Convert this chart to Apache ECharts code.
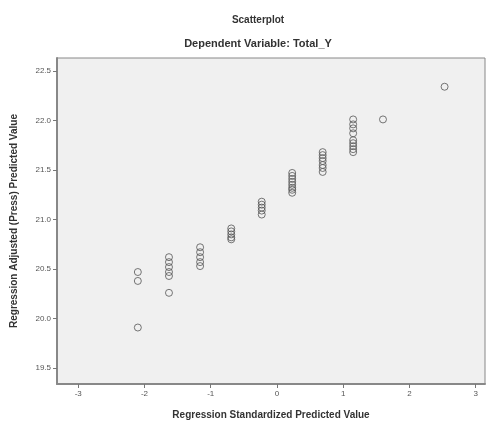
<!DOCTYPE html>
<html>
<head>
<meta charset="utf-8">
<script src="https://cdn.jsdelivr.net/npm/echarts@6/dist/echarts.min.js"></script>
<style>html,body{margin:0;padding:0;background:#fff}#c{width:489px;height:427px}</style>
</head>
<body>
<div id="c"></div>
<script>
var xTicks = [-3, -2, -1, 0, 1, 2, 3];
var yTicks = [19.5, 20.0, 20.5, 21.0, 21.5, 22.0, 22.5];
// standardized predicted value per group
var groupX = [-2.10, -1.63, -1.16, -0.69, -0.23, 0.23, 0.69, 1.15, 1.60, 2.53];
// adjusted (press) predicted values per group
var groupY = [
  [20.47, 20.38, 19.91],
  [20.62, 20.57, 20.52, 20.47, 20.43, 20.26],
  [20.72, 20.67, 20.62, 20.57, 20.53],
  [20.91, 20.88, 20.85, 20.82, 20.80],
  [21.18, 21.15, 21.12, 21.09, 21.05],
  [21.47, 21.44, 21.41, 21.38, 21.35, 21.32, 21.30, 21.27],
  [21.68, 21.65, 21.62, 21.59, 21.55, 21.52, 21.48],
  [22.01, 21.96, 21.92, 21.87, 21.80, 21.77, 21.74, 21.71, 21.68],
  [22.01],
  [22.34]
];
var points = [];
groupX.forEach(function (x, i) { groupY[i].forEach(function (y) { points.push([x, y]); }); });

var chart = echarts.init(document.getElementById('c'));
var font = 'Liberation Sans, Arial, sans-serif';
chart.setOption({
  animation: false,
  title: [
    { text: 'Scatterplot', left: 253, top: 10, textAlign: 'center',
      textStyle: { fontFamily: font, fontSize: 10, fontWeight: 'bold', color: '#333' } },
    { text: 'Dependent Variable: Total_Y', left: 253, top: 33, textAlign: 'center',
      textStyle: { fontFamily: font, fontSize: 11, fontWeight: 'bold', color: '#333' } }
  ],
  grid: { left: 57, top: 58, right: 4, bottom: 43, show: true,
    backgroundColor: '#f0f0f0', borderColor: '#888', borderWidth: 1 },
  xAxis: {
    type: 'value', min: -3.32, max: 3.14,
    name: 'Regression Standardized Predicted Value', nameLocation: 'middle', nameGap: 26,
    nameTextStyle: { fontFamily: font, fontSize: 10, fontWeight: 'bold', color: '#333' },
    axisLine: { show: true, onZero: false, lineStyle: { color: '#888', width: 2 } },
    axisTick: { show: true, length: 4, customValues: xTicks, lineStyle: { color: '#777' } },
    axisLabel: { customValues: xTicks, fontFamily: font, fontSize: 8, color: '#555', margin: 6 },
    splitLine: { show: false }
  },
  yAxis: {
    type: 'value', min: 19.34, max: 22.63,
    name: 'Regression Adjusted (Press) Predicted Value', nameLocation: 'middle', nameGap: 38,
    nameTextStyle: { fontFamily: font, fontSize: 10, fontWeight: 'bold', color: '#333' },
    axisLine: { show: true, onZero: false, lineStyle: { color: '#888', width: 2 } },
    axisTick: { show: true, length: 4, customValues: yTicks, lineStyle: { color: '#777' } },
    axisLabel: { customValues: yTicks, fontFamily: font, fontSize: 8, color: '#555', margin: 6,
      formatter: function (v) { return v.toFixed(1); } },
    splitLine: { show: false }
  },
  series: [{
    type: 'scatter', data: points, symbol: 'circle', symbolSize: 7,
    itemStyle: { color: 'rgba(0,0,0,0)', borderColor: '#555', borderWidth: 1 }
  }]
});
</script>
</body>
</html>
